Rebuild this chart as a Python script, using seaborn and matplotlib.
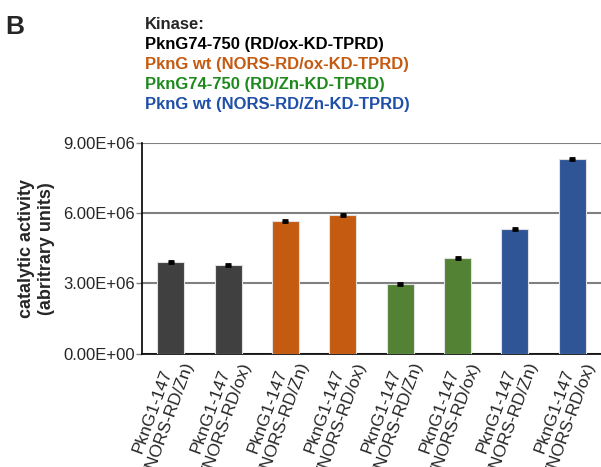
import numpy as np
import pandas as pd
import matplotlib
matplotlib.use("Agg")
import matplotlib.pyplot as plt
import matplotlib.transforms as mtransforms
import seaborn as sns
from matplotlib.ticker import FuncFormatter

# catalytic activity per sample
samples = list(range(8))
tick_labels = ["PknG1-147\n(NORS-RD/Zn)", "PknG1-147\n(NORS-RD/ox)"] * 4
activity = [3.92e6, 3.79e6, 5.66e6, 5.92e6, 2.99e6, 4.08e6, 5.34e6, 8.31e6]
errors = [0.04e6, 0.04e6, 0.04e6, 0.04e6, 0.04e6, 0.04e6, 0.04e6, 0.04e6]
kinases = ["PknG74-750 (RD/ox-KD-TPRD)", "PknG wt (NORS-RD/ox-KD-TPRD)",
           "PknG74-750 (RD/Zn-KD-TPRD)", "PknG wt (NORS-RD/Zn-KD-TPRD)"]
kinase_colors = ["#404040", "#c55a11", "#548235", "#2f5597"]
legend_colors = ["#000000", "#c55a11", "#1e8a1e", "#1f4fa8"]

bar_colors = [c for c in kinase_colors for _ in range(2)]
df = pd.DataFrame({"sample": samples, "activity": activity})

sns.set_style("white")
plt.rcParams['font.family'] = ['Liberation Sans', 'DejaVu Sans']

fig = plt.figure(figsize=(6.01, 4.67), dpi=100)
ax = fig.add_axes([142 / 601, 1 - 353.5 / 467, 1 - 142 / 601, (353.5 - 143) / 467])

sns.barplot(data=df, x="sample", y="activity", hue="sample", palette=bar_colors,
            saturation=1, legend=False, width=0.47, edgecolor="#e0e0e0",
            linewidth=0.8, ax=ax, zorder=3)
ax.errorbar(samples, activity, yerr=errors, fmt="none", ecolor="black",
            elinewidth=2.5, capsize=2.5, capthick=2, zorder=4)

ax.set_ylim(0, 9e6)
ax.set_xlim(-0.5, 7.5)
ax.set_yticks([0, 3e6, 6e6, 9e6])
ax.yaxis.set_major_formatter(FuncFormatter(lambda v, p: f"{v:.2E}"))
ax.yaxis.grid(True, color="#808080", linewidth=1.5, zorder=0)
ax.set_axisbelow(True)
ax.tick_params(axis="y", length=4, width=1, color="#808080", labelsize=12, pad=1, left=True)
ax.tick_params(axis="x", length=0, pad=2)
ax.set_xticks(samples)
ax.set_xticklabels(tick_labels, rotation=70, ha="right", va="center",
                   rotation_mode="anchor", ma="center", fontsize=12.5, linespacing=1.2)
# excel puts the label block a bit right of the tick
shift = mtransforms.ScaledTranslation(10 / 100, -3 / 100, fig.dpi_scale_trans)
for lab in ax.get_xticklabels():
    lab.set_transform(lab.get_transform() + shift)

for s in ["top", "right"]:
    ax.spines[s].set_visible(False)
ax.spines["left"].set_color("black")
ax.spines["bottom"].set_color("black")
ax.spines["left"].set_linewidth(1.2)
ax.spines["bottom"].set_linewidth(1.2)

ax.set_xlabel("")
ax.set_ylabel("catalytic activity\n(abritrary units)", fontsize=13, fontweight="bold", labelpad=6)

fig.text(5 / 601, 1 - 34 / 467, "B", fontsize=19, fontweight="bold", va="baseline")
fig.text(145 / 601, 1 - 29 / 467, "Kinase:", fontsize=12, fontweight="bold", va="baseline")
for i, (name, col) in enumerate(zip(kinases, legend_colors)):
    fig.text(145 / 601, 1 - (49 + 20 * i) / 467, name, fontsize=12,
             fontweight="bold", color=col, va="baseline")

fig.savefig("out.png", dpi=100)
